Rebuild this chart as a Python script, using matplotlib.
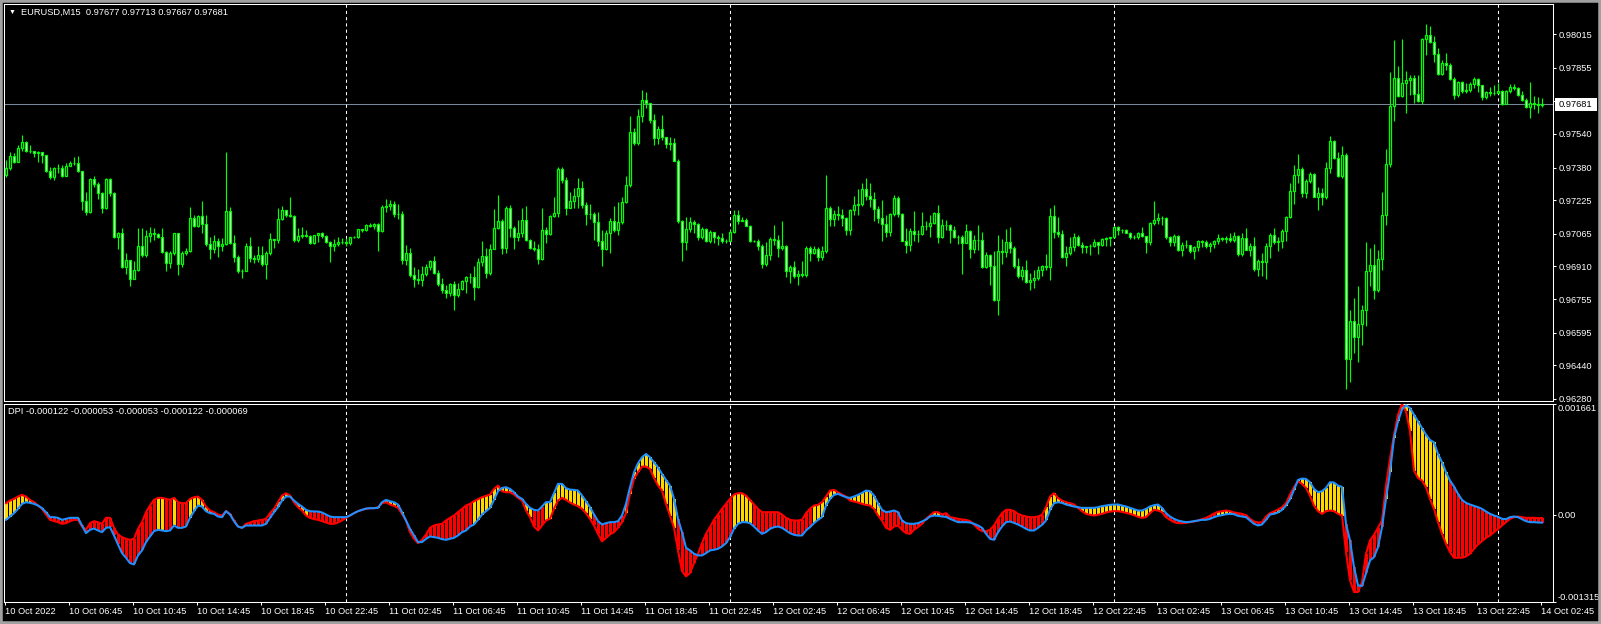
import numpy as np
import matplotlib
matplotlib.use("Agg")
import matplotlib.pyplot as plt
import matplotlib.transforms as mtransforms
from matplotlib.patches import Rectangle

plt.rcParams['font.family'] = ['Liberation Sans', 'DejaVu Sans']

symbol_title = "EURUSD,M15  0.97677 0.97713 0.97667 0.97681"
dpi_title = "DPI -0.000122 -0.000053 -0.000053 -0.000122 -0.000069"

# EURUSD M15 candles, prices in points (1e-5), open of each bar = previous close
first_open = 97345
closes = [
    97376, 97435, 97408, 97471, 97503, 97460, 97459, 97448, 97452, 97440,
    97365, 97334, 97376, 97376, 97342, 97389, 97400, 97403, 97365, 97220,
    97171, 97324, 97302, 97258, 97187, 97324, 97258, 97049, 97068, 96906,
    96941, 96852, 96894, 97008, 96965, 97057, 97068, 97063, 97049, 96978,
    96928, 96973, 97068, 96921, 96973, 96981, 97139, 97103, 97150, 97111,
    97016, 96992, 97031, 97008, 97016, 97174, 97020, 96954, 96886, 96890,
    97008, 96952, 96944, 96965, 96921, 96973, 97041, 97036, 97134, 97179,
    97155, 97152, 97036, 97055, 97058, 97055, 97023, 97058, 97071, 97055,
    97028, 97008, 97016, 97027, 97027, 97020, 97049, 97052, 97087, 97084,
    97106, 97103, 97112, 97080, 97191, 97198, 97208, 97160, 97158, 96942,
    96973, 96870, 96850, 96847, 96874, 96905, 96937, 96878, 96828, 96799,
    96783, 96828, 96775, 96804, 96839, 96858, 96858, 96812, 96931, 96961,
    96878, 96992, 97092, 97127, 96997, 97190, 97095, 97052, 97068, 97132,
    97037, 96997, 96995, 96945, 97081, 97065, 97151, 97163, 97372, 97322,
    97190, 97223, 97246, 97282, 97200, 97159, 97159, 97119, 97029, 96992,
    97071, 97124, 97084, 97119, 97214, 97295, 97548, 97496, 97626, 97701,
    97689, 97607, 97519, 97562, 97524, 97493, 97496, 97413, 97124, 97026,
    97087, 97119, 97113, 97049, 97087, 97032, 97076, 97049, 97045, 97029,
    97033, 97076, 97155, 97124, 97132, 97103, 97029, 97032, 97005, 96921,
    96965, 97040, 97037, 96997, 97005, 96886, 96907, 96866, 96875, 96870,
    96997, 96976, 96992, 96954, 96981, 97187, 97135, 97160, 97154, 97139,
    97084, 97179, 97203, 97208, 97277, 97247, 97230, 97185, 97139, 97113,
    97076, 97158, 97234, 97158, 97033, 97013, 97079, 97065, 97065, 97103,
    97103, 97116, 97163, 97052, 97105, 97105, 97084, 97049, 97049, 97021,
    97079, 96992, 97037, 97037, 96907, 96962, 96910, 96748, 96984, 96980,
    97024, 96997, 96910, 96866, 96891, 96834, 96847, 96855, 96894, 96910,
    96907, 97151, 97076, 97065, 96954, 96976, 97002, 97049, 97013, 97002,
    97005, 97008, 97024, 97011, 97040, 97044, 97049, 97097, 97081, 97082,
    97071, 97049, 97049, 97068, 97056, 97024, 97116, 97132, 97139, 97139,
    97048, 97024, 97056, 96989, 97013, 97010, 96981, 97002, 97029, 97026,
    97008, 97018, 97029, 97045, 97040, 97045, 97037, 97056, 96970, 97045,
    96989, 97008, 96897, 96934, 96932, 97005, 97060, 97024, 97029, 97079,
    97144, 97271, 97345, 97372, 97258, 97314, 97350, 97242, 97261, 97238,
    97377, 97508, 97425, 97338, 97440, 96470, 96649, 96574, 96638, 96701,
    96886, 96915, 96796, 96945, 97155, 97398, 97673, 97804, 97721, 97784,
    97797, 97804, 97730, 97698, 97991, 98010, 97979, 97918, 97825, 97876,
    97868, 97800, 97725, 97789, 97746, 97749, 97778, 97800, 97773, 97714,
    97741, 97733, 97736, 97744, 97683, 97744, 97765, 97760, 97725, 97702,
    97667, 97689, 97683, 97680, 97681,
]
highs = [
    97416, 97452, 97448, 97487, 97535, 97508, 97487, 97460, 97460, 97456,
    97440, 97384, 97381, 97397, 97392, 97400, 97413, 97432, 97435, 97364,
    97266, 97329, 97340, 97313, 97266, 97329, 97329, 97266, 97076, 97092,
    96976, 96941, 96938, 97092, 97092, 97084, 97096, 97092, 97068, 97092,
    96985, 96985, 97071, 97071, 96981, 96997, 97191, 97155, 97155, 97221,
    97155, 97052, 97060, 97044, 97044, 97452, 97194, 97060, 96965, 96897,
    97020, 97052, 96965, 97008, 97008, 96981, 97068, 97041, 97187, 97198,
    97179, 97239, 97155, 97092, 97096, 97084, 97060, 97060, 97071, 97074,
    97060, 97033, 97039, 97049, 97044, 97044, 97052, 97055, 97090, 97090,
    97112, 97115, 97118, 97118, 97202, 97229, 97227, 97219, 97208, 97174,
    97013, 96997, 96907, 96897, 96913, 96923, 96942, 96961, 96894, 96855,
    96823, 96831, 96839, 96831, 96847, 96866, 96878, 96910, 96950, 97032,
    96997, 97018, 97184, 97250, 97135, 97198, 97203, 97100, 97132, 97187,
    97195, 97040, 97030, 97018, 97187, 97097, 97155, 97239, 97382, 97382,
    97333, 97266, 97282, 97329, 97314, 97214, 97208, 97171, 97168, 97084,
    97084, 97140, 97198, 97214, 97242, 97342, 97626, 97570, 97657, 97749,
    97741, 97689, 97635, 97578, 97630, 97527, 97524, 97519, 97421, 97132,
    97144, 97144, 97132, 97116, 97097, 97092, 97081, 97065, 97060, 97071,
    97040, 97084, 97179, 97179, 97147, 97140, 97108, 97037, 97040, 97018,
    97024, 97049, 97108, 97060, 97124, 97013, 96918, 96934, 96894, 96938,
    97005, 97008, 97005, 97002, 97005, 97345, 97195, 97176, 97198, 97182,
    97147, 97182, 97246, 97277, 97309, 97331, 97307, 97266, 97195, 97227,
    97155, 97163, 97250, 97246, 97163, 97092, 97092, 97174, 97084, 97171,
    97127, 97155, 97171, 97203, 97135, 97132, 97113, 97100, 97060, 97060,
    97113, 97084, 97060, 97108, 97073, 96978, 96970, 96984, 97060, 97040,
    97087, 97097, 97005, 96950, 96913, 96942, 96878, 96894, 96910, 96918,
    96970, 97187, 97203, 97144, 97081, 97005, 97049, 97068, 97060, 97024,
    97005, 97018, 97040, 97027, 97044, 97049, 97052, 97103, 97103, 97090,
    97087, 97076, 97060, 97076, 97097, 97056, 97119, 97222, 97166, 97151,
    97144, 97056, 97065, 97060, 97024, 97037, 97013, 97008, 97037, 97037,
    97037, 97024, 97037, 97065, 97052, 97056, 97068, 97075, 97060, 97071,
    97092, 97021, 97049, 96945, 96973, 97021, 97071, 97092, 97052, 97087,
    97151, 97306, 97393, 97445, 97385, 97325, 97361, 97356, 97290, 97282,
    97406, 97531, 97512, 97456, 97483, 97448, 96704, 96760, 96818, 96728,
    97024, 96997, 97018, 96989, 97266, 97467, 97836, 97987, 97863, 97991,
    97841, 97820, 97820, 97820, 97994, 98062, 98053, 98006, 97947, 97892,
    97923, 97876, 97812, 97792, 97793, 97784, 97789, 97809, 97804, 97741,
    97746, 97765, 97773, 97781, 97749, 97749, 97778, 97778, 97765, 97746,
    97709, 97789, 97721, 97717, 97713,
]
lows = [
    97337, 97369, 97400, 97405, 97460, 97456, 97448, 97432, 97408, 97400,
    97361, 97324, 97321, 97353, 97334, 97340, 97388, 97392, 97361, 97179,
    97155, 97166, 97289, 97229, 97166, 97182, 97245, 97044, 96992, 96902,
    96875, 96818, 96849, 96886, 96954, 96957, 97025, 97036, 97044, 96976,
    96886, 96902, 96965, 96870, 96909, 96965, 96978, 97099, 97099, 97071,
    97008, 96944, 96973, 96954, 96981, 97012, 97017, 96933, 96878, 96854,
    96886, 96933, 96928, 96933, 96914, 96849, 96965, 96997, 97020, 97131,
    97147, 97144, 97028, 97028, 97044, 97049, 97017, 97017, 97028, 97044,
    97023, 96933, 96985, 97008, 97017, 97008, 97012, 97044, 97046, 97076,
    97077, 97096, 97087, 96985, 97076, 97171, 97176, 97147, 97135, 96923,
    96918, 96862, 96812, 96826, 96815, 96866, 96894, 96875, 96815, 96783,
    96760, 96768, 96704, 96764, 96796, 96783, 96831, 96749, 96807, 96910,
    96855, 96870, 96992, 97089, 96970, 96973, 97049, 96992, 97033, 97052,
    97033, 96992, 96981, 96923, 96942, 97021, 97059, 97147, 97147, 97306,
    97155, 97187, 97190, 97190, 97187, 97108, 97135, 97037, 97005, 96910,
    96989, 96973, 97076, 97060, 97113, 97211, 97287, 97488, 97488, 97599,
    97662, 97591, 97488, 97493, 97512, 97472, 97464, 97409, 97116, 96938,
    96986, 97076, 97068, 97037, 97040, 97024, 97021, 97021, 97013, 97021,
    97021, 97029, 97071, 97113, 97124, 97100, 97024, 97026, 96989, 96902,
    96910, 96942, 97013, 96957, 96989, 96862, 96831, 96855, 96823, 96862,
    96859, 96934, 96970, 96938, 96942, 96973, 97103, 97100, 97132, 97103,
    97060, 97060, 97155, 97155, 97195, 97227, 97192, 97128, 97116, 97029,
    97049, 97056, 97151, 97147, 97029, 96976, 96981, 97033, 97024, 97060,
    97084, 97049, 97113, 97021, 97044, 97084, 97021, 97044, 97018, 96875,
    97021, 96949, 96973, 96989, 96902, 96902, 96823, 96744, 96677, 96923,
    96953, 96976, 96902, 96855, 96847, 96831, 96799, 96807, 96847, 96866,
    96891, 96847, 97044, 97052, 96950, 96913, 96965, 96984, 97008, 96976,
    96973, 96965, 97002, 96970, 97005, 97005, 97008, 97044, 97060, 97068,
    97068, 97040, 97040, 97040, 97049, 96976, 97013, 97109, 97113, 97108,
    97040, 97005, 97008, 96981, 96961, 96997, 96973, 96945, 96981, 97002,
    96997, 96977, 96997, 97018, 97029, 97021, 97024, 97024, 96961, 96961,
    96986, 96961, 96886, 96866, 96866, 96850, 96950, 97018, 96981, 96997,
    97029, 97140, 97208, 97309, 97242, 97235, 97306, 97239, 97176, 97203,
    97231, 97353, 97420, 97334, 97330, 96328, 96359, 96498, 96454, 96538,
    96625, 96815, 96755, 96787, 96894, 97108, 97385, 97602, 97714, 97714,
    97641, 97725, 97689, 97694, 97683, 97915, 97971, 97884, 97820, 97820,
    97844, 97797, 97708, 97714, 97736, 97733, 97741, 97757, 97741, 97702,
    97705, 97721, 97725, 97733, 97678, 97686, 97733, 97749, 97721, 97698,
    97662, 97614, 97657, 97641, 97667,
]

# DPI indicator, values in 1e-6
dpi_red = [
    170, 210, 235, 270, 295, 270, 220, 185, 135, 85,
    0, -80, -100, -115, -140, -130, -100, -80, -80, -180,
    -230, -130, -100, -115, -140, -50, -50, -200, -300, -340,
    -365, -380, -365, -215, -115, 35, 135, 220, 250, 250,
    235, 220, 250, 185, 170, 170, 235, 260, 270, 220,
    120, 60, 35, 0, -15, 50, 10, -90, -180, -200,
    -140, -120, -100, -90, -80, -65, 20, 85, 185, 285,
    320, 285, 185, 110, 60, -15, -50, -70, -80, -100,
    -120, -140, -140, -120, -90, -50, -15, 20, 50, 70,
    85, 95, 95, 110, 170, 185, 150, 130, 100, 10,
    -90, -265, -365, -430, -380, -300, -200, -165, -150, -140,
    -90, -50, -15, 35, 85, 135, 160, 200, 230, 260,
    280, 300, 385, 435, 350, 335, 335, 300, 250, 210,
    60, -40, -180, -240, -165, -90, -65, 85, 210, 250,
    220, 180, 150, 125, 85, 20, -65, -165, -290, -405,
    -350, -300, -265, -200, -115, 20, 310, 535, 635, 720,
    720, 685, 550, 435, 360, 160, -15, -200, -540, -850,
    -930, -880, -730, -590, -430, -290, -190, -80, 0, 85,
    160, 235, 300, 320, 320, 285, 220, 150, 85, 35,
    35, 35, 35, 35, 0, -50, -80, -90, -90, -80,
    20, 85, 135, 145, 185, 270, 360, 370, 335, 300,
    270, 210, 195, 180, 160, 145, 135, 85, -15, -90,
    -200, -230, -180, -165, -230, -280, -290, -230, -190, -140,
    -65, -15, 35, 35, 0, 20, -40, -50, -65, -75,
    -80, -100, -150, -215, -250, -250, -230, -165, -65, 20,
    70, 70, 50, 10, -15, -30, -40, -40, -30, -5,
    110, 270, 320, 250, 210, 185, 170, 150, 100, 50,
    10, -5, -15, -5, 10, 30, 45, 50, 50, 40,
    25, 10, -10, -35, -50, -40, 20, 70, 60, 35,
    -40, -80, -115, -130, -130, -125, -115, -105, -90, -70,
    -50, -20, 15, 40, 50, 60, 50, 30, 20, 10,
    -10, -65, -105, -120, -115, -30, 20, 45, 75, 110,
    170, 300, 410, 500, 460, 400, 285, 135, 50, 10,
    50, 60, 50, 10, -15, -565, -990, -1165, -1165, -1015,
    -590, -390, -305, -200, -90, 435, 835, 1200, 1500, 1661,
    1550, 1250, 660, 550, 510, 410, 235, 85, -115, -290,
    -440, -565, -650, -650, -650, -630, -590, -515, -450, -400,
    -350, -315, -265, -215, -165, -115, -65, -40, -30, -40,
    -50, -50, -50, -55, -53,
]
dpi_blue = [
    -80, -30, 20, 85, 160, 185, 175, 160, 135, 95,
    35, -40, -40, -50, -80, -65, -50, -50, -50, -165,
    -280, -230, -210, -240, -265, -200, -190, -315, -450, -580,
    -650, -730, -750, -615, -540, -415, -330, -250, -230, -240,
    -250, -240, -165, -200, -200, -180, -50, 50, 135, 120,
    50, 20, 10, -30, -40, 50, 0, -100, -180, -200,
    -165, -165, -165, -165, -165, -140, -50, 35, 110, 210,
    270, 270, 210, 160, 120, 70, 50, 45, 45, 30,
    0, -30, -40, -40, -40, -40, -15, 20, 50, 70,
    90, 95, 95, 100, 185, 220, 200, 185, 150, 35,
    -90, -215, -315, -415, -415, -365, -330, -340, -350, -370,
    -380, -365, -350, -315, -265, -240, -180, -150, -80, 0,
    50, 100, 220, 350, 400, 410, 385, 335, 270, 235,
    160, 100, 70, 60, 120, 185, 185, 320, 460, 460,
    395, 375, 370, 360, 285, 200, 110, 0, -100, -150,
    -130, -115, -115, -100, -15, 160, 410, 635, 770, 860,
    910, 860, 785, 710, 610, 520, 435, 235, -65, -265,
    -500, -540, -590, -615, -615, -580, -540, -530, -515, -480,
    -430, -340, -215, -140, -115, -115, -130, -180, -240, -290,
    -265, -215, -190, -180, -200, -240, -280, -305, -315, -315,
    -240, -190, -130, -80, -40, 135, 235, 295, 310, 285,
    260, 250, 270, 295, 325, 360, 350, 285, 170, 70,
    35, 45, 60, 35, -90, -130, -140, -140, -130, -105,
    -75, -30, -15, -20, -30, -35, -65, -90, -115, -115,
    -115, -120, -140, -165, -200, -290, -365, -380, -265, -180,
    -115, -105, -125, -150, -180, -215, -240, -240, -200, -155,
    -90, 70, 170, 185, 175, 150, 135, 120, 110, 100,
    100, 100, 100, 110, 125, 135, 145, 150, 150, 135,
    120, 100, 80, 60, 60, 85, 120, 140, 150, 100,
    20, -30, -65, -90, -105, -115, -110, -100, -90, -80,
    -80, -65, -40, -20, -10, 5, 10, 5, -20, -30,
    -40, -90, -140, -165, -150, -80, 0, 10, 30, 70,
    135, 230, 370, 520, 540, 535, 485, 385, 335, 350,
    400, 485, 480, 435, 415, -140, -390, -790, -1065, -1075,
    -880, -690, -640, -490, -190, 235, 635, 1150, 1400, 1580,
    1640, 1600, 1500, 1400, 1300, 1200, 1120, 1085, 910, 785,
    635, 510, 420, 310, 220, 175, 150, 130, 110, 85,
    45, 10, -15, -35, -65, -70, -40, -30, -40, -70,
    -100, -115, -115, -120, -122,
]

last_price = 0.97681
price_ticks = [0.98015, 0.97855, 0.97695, 0.97540, 0.97380, 0.97225,
               0.97065, 0.96910, 0.96755, 0.96595, 0.96440, 0.96280]
dpi_top = 0.001661
dpi_bottom = -0.001315
time_labels = ["10 Oct 2022", "10 Oct 06:45", "10 Oct 10:45", "10 Oct 14:45", "10 Oct 18:45",
               "10 Oct 22:45", "11 Oct 02:45", "11 Oct 06:45", "11 Oct 10:45", "11 Oct 14:45",
               "11 Oct 18:45", "11 Oct 22:45", "12 Oct 02:45", "12 Oct 06:45", "12 Oct 10:45",
               "12 Oct 14:45", "12 Oct 18:45", "12 Oct 22:45", "13 Oct 02:45", "13 Oct 06:45",
               "13 Oct 10:45", "13 Oct 14:45", "13 Oct 18:45", "13 Oct 22:45", "14 Oct 02:45"]
label_every = 16          # one time label every 16 bars (4 hours)
day_starts = [85, 181, 277, 373]   # bars at 00:00

W, H = 1601, 624
fs = 6.7
lime = '#00ff00'

fig = plt.figure(figsize=(W / 100, H / 100), dpi=100, facecolor='black')

def box(l, t, r, b):
    return [l / W, 1 - b / H, (r - l) / W, (b - t) / H]

ax = fig.add_axes(box(4, 4, 1553, 401))
ax2 = fig.add_axes(box(4, 404, 1553, 602))

n = len(closes)
x = np.arange(n)
c = np.array(closes) / 1e5
o = np.concatenate([[first_open], closes[:-1]]) / 1e5
h = np.maximum(np.array(highs) / 1e5, np.maximum(o, c))
l = np.minimum(np.array(lows) / 1e5, np.minimum(o, c))

# price panel
ax.axhline(last_price, color='#778899', lw=0.75, zorder=1)
for d in day_starts:
    ax.axvline(d, color='white', lw=0.75, ls=(0, (3, 3)), zorder=1.5)
    ax2.axvline(d, color='white', lw=0.75, ls=(0, (3, 3)), zorder=1.5)
ax.vlines(x, l, h, color=lime, lw=0.85, zorder=2)
body_col = np.where(c < o, 'white', 'black')
ax.bar(x, c - o, bottom=o, width=0.52, color=body_col, edgecolor=lime, linewidth=0.9, zorder=3)

# DPI panel
r = np.array(dpi_red) * 1e-6
b = np.array(dpi_blue) * 1e-6
hist_col = np.where(r + b > 0, '#ffd700', '#ff0000')
ax2.bar(x, b - r, bottom=r, width=0.75, color=hist_col, linewidth=0, zorder=2)
ax2.plot(x, r, color='#ff0000', lw=1.5, zorder=3)
ax2.plot(x, b, color='#1e90ff', lw=1.5, zorder=4)

for a in (ax, ax2):
    a.set_facecolor('black')
    a.set_xlim(-0.5, 386.75)
    for s in a.spines.values():
        s.set_color('white')
        s.set_linewidth(0.75)
    a.yaxis.tick_right()

ax.set_ylim(0.96270, 0.98158)
ax.set_xticks([])
ax.set_yticks(price_ticks)
ax.set_yticklabels([f"{v:.5f}" for v in price_ticks])
ax.tick_params(axis='y', colors='white', length=2.2, width=0.75, pad=2.2, labelsize=fs)

ax2.set_ylim(dpi_bottom, dpi_top)
ax2.set_yticks([dpi_top, 0.0, dpi_bottom])
ax2.set_yticklabels([f"{dpi_top:.6f}", "0.00", f"{dpi_bottom:.6f}"])
ax2.tick_params(axis='y', colors='white', length=2.2, width=0.75, pad=1.0, labelsize=fs)
tl = ax2.get_yticklabels()
tl[0].set_va('top')
tl[2].set_va('bottom')

ax2.set_xticks(np.arange(0, n, label_every) - 0.25)
ax2.set_xticklabels(time_labels, ha='left')
ax2.tick_params(axis='x', colors='white', length=2.2, width=0.75, pad=1.5, labelsize=fs)

# current price tag
trans = mtransforms.blended_transform_factory(ax.transAxes, ax.transData)
ppx = (0.98158 - 0.96270) / 397
ax.add_patch(Rectangle((1 + 2 / 1549, last_price - 6.5 * ppx), 42 / 1549, 13 * ppx,
                       transform=trans, fc='white', ec='none', clip_on=False, zorder=10))
ax.text(1 + 6 / 1549, last_price, f"{last_price:.5f}", transform=trans, color='black',
        va='center', ha='left', fontsize=fs, zorder=11, clip_on=False)

fig.text(9 / W, 1 - 12.5 / H, "\u25bc", color='white', fontsize=5, va='center', ha='left')
fig.text(21 / W, 1 - 12.5 / H, symbol_title, color='white', fontsize=fs, va='center', ha='left')
fig.text(8 / W, 1 - 411 / H, dpi_title, color='white', fontsize=fs, va='center', ha='left')

fig.add_artist(Rectangle((0, 0), 1, 1, transform=fig.transFigure, fill=False,
                         ec='#a0a0a0', lw=4))

fig.savefig("out.png", dpi=100, facecolor='black')
